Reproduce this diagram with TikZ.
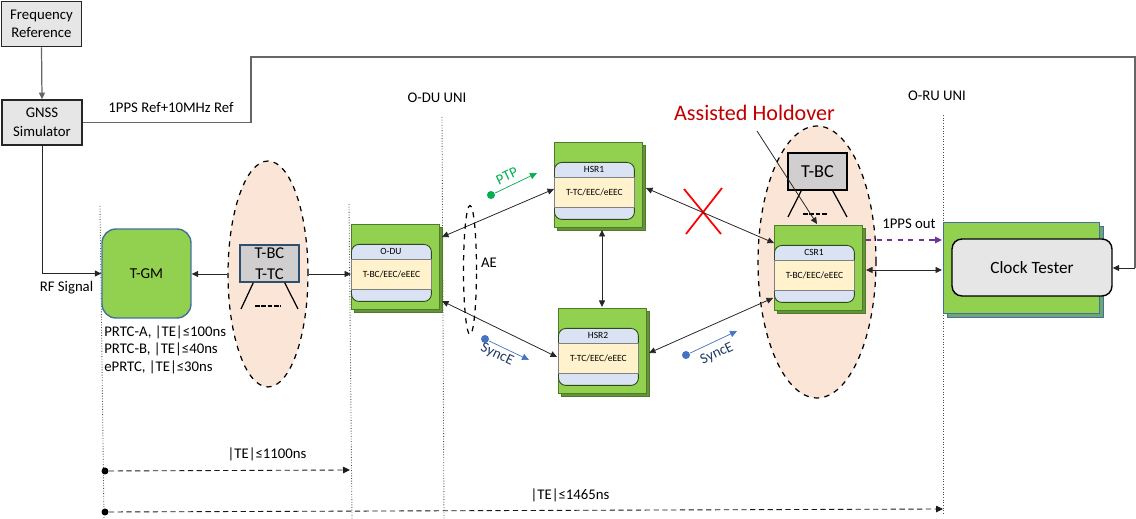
\documentclass[tikz,border=0pt]{standalone}
\usepackage{fontspec}
\setmainfont{Carlito}
\usetikzlibrary{positioning,arrows.meta,shapes.geometric}
\definecolor{devgreen}{HTML}{92D050}
\definecolor{devedge}{HTML}{4E7A2B}
\definecolor{panelblue}{HTML}{DAE3F3}
\definecolor{panelyellow}{HTML}{FFF2CC}
\definecolor{peach}{HTML}{FBE5D6}
\definecolor{boxgrey}{HTML}{D0CECE}
\definecolor{refgrey}{HTML}{E7E6E6}
\definecolor{edgeblue}{HTML}{41719C}
\definecolor{holdred}{HTML}{C00000}
\definecolor{ptpgreen}{HTML}{00B050}
\definecolor{syncblue}{HTML}{4472C4}
\definecolor{syncnavy}{HTML}{203864}
\definecolor{ppspurple}{HTML}{7030A0}
\tikzset{
  lbl/.style={inner sep=0pt,font=\fontsize{8.4}{10}\selectfont,align=center},
  refbox/.style={draw=black!85,line width=0.9pt,fill=refgrey,inner sep=0pt,align=center,font=\fontsize{8.4}{10.6}\selectfont,minimum width=1.6cm,minimum height=0.9cm},
  link/.style={{Triangle[length=1.3mm,width=1.2mm]}-{Triangle[length=1.3mm,width=1.2mm]},line width=0.45pt,draw=black!85},
  linkto/.style={-{Triangle[length=1.3mm,width=1.2mm]},line width=0.45pt,draw=black!85},
  feed/.style={-{Triangle[length=1.3mm,width=1.2mm]},line width=0.7pt,draw=black!60},
  zone/.style={ellipse,draw=black,dashed,line width=0.7pt,fill=peach,inner sep=0pt},
  boundary/.style={draw=black!70,line width=0.5pt,densely dotted},
  span/.style={-{Triangle[length=1.4mm,width=1.3mm]},draw=black!90,line width=0.5pt,densely dashed},
  clockbox/.style={draw,inner sep=0pt,align=center,fill=boxgrey},
  devfront/.style={draw=devedge,line width=0.5pt,fill=devgreen,minimum width=1.76cm,minimum height=1.7cm,anchor=north west,inner sep=0pt},
  legline/.style={draw=black,line width=0.7pt},
  dashrow/.style={line width=0.9pt,dash pattern=on 2.6pt off 1pt},
  dot/.style={circle,fill=#1,inner sep=0pt,minimum size=1.6mm},
}
% device: name, left, top, title, text
\newcommand{\devbox}[5]{
  \node[devfront,fill=devgreen!70!black] (#1back) at (#2+3,#3+3) {};
  \node[devfront] (#1) at (#2,#3) {};
  \node[draw=devedge!60!black,line width=0.5pt,fill=panelblue,rounded corners=1.5mm,minimum width=1.6cm,minimum height=1.14cm,anchor=north west,inner sep=0pt] (#1panel) at (#2,#3+20) {};
  \node[draw=black!50,line width=0.5pt,fill=panelyellow,minimum width=1.6cm,minimum height=0.6cm,anchor=north west,inner sep=0pt,font=\fontsize{5.4}{6}\selectfont] (#1text) at (#2,#3+35) {#5};
  \node[inner sep=0pt,font=\fontsize{5.4}{6}\selectfont] (#1title) at (#2+40,#3+27.5) {#4};
}
\begin{document}
\begin{tikzpicture}[x=0.02cm,y=-0.02cm]
    \useasboundingbox (0,0) rectangle (1136,519);
    % dotted boundaries
    \coordinate (b1top) at (100,206);
    \coordinate (b1bot) at (104,519);
    \coordinate (b2top) at (349,204);
    \coordinate (b2bot) at (352,519);
    \coordinate (b3top) at (442,117);
    \coordinate (b3bot) at (444,519);
    \coordinate (b4top) at (943,115);
    \coordinate (b4bot) at (943,515);
    \draw[boundary] (b1top) -- (b1bot);
    \draw[boundary] (b2top) -- (b2bot);
    \draw[boundary] (b3top) -- (b3bot);
    \draw[boundary] (b4top) -- (b4bot);

    % reference and simulator
    \node[refbox] (freq) at (41.5,24) {Frequency\\Reference};
    \node[refbox] (gnss) at (42,122.5) {GNSS\\Simulator};
    \node[lbl] (pps) at (171,107) {1PPS Ref+10MHz Ref};
    \node[lbl] (rf) at (66.5,288) {RF Signal};

    % grand master
    \node[draw=edgeblue,line width=0.8pt,fill=devgreen,rounded corners=2.8mm,minimum width=1.78cm,minimum height=1.78cm,inner sep=0pt,font=\fontsize{8.6}{10}\selectfont] (tgm) at (146.5,273.5) {T-GM};
    \node[lbl,align=left,anchor=north west,font=\fontsize{8.4}{10.2}\selectfont] (prtc) at (104,325) {PRTC-A, |TE|≤100ns\\PRTC-B, |TE|≤40ns\\ePRTC, |TE|≤30ns};

    % chain of clocks
    \node[zone,minimum width=1.6cm,minimum height=4.52cm] (chain) at (268,274) {};
    \node[clockbox,draw=edgeblue!70!black,line width=0.8pt,minimum width=1.18cm,minimum height=0.74cm,font=\fontsize{9.4}{12}\selectfont] (chainbox) at (269.5,263.5) {T-BC\\T-TC};
    \coordinate (cl1) at (241,309);
    \coordinate (cl2) at (298,309);
    \coordinate (cd1) at (255,306);
    \coordinate (cd2) at (281,306);
    \draw[legline] (chainbox.south west) ++(14,0) -- (cl1);
    \draw[legline] (chainbox.south east) ++(-15,0) -- (cl2);
    \draw[dashrow] (cd1) -- (cd2);

    % devices
    \devbox{odu}{351}{224}{O-DU}{T-BC/EEC/eEEC}
    \devbox{hsr1}{554}{142}{HSR1}{T-TC/EEC/eEEC}
    \devbox{hsr2}{558}{308}{HSR2}{T-TC/EEC/eEEC}

    \node[zone,minimum width=2.36cm,minimum height=5.44cm] (csrzone) at (817,262) {};
    \node[clockbox,draw=black,line width=0.8pt,minimum width=1.18cm,minimum height=0.74cm,font=\fontsize{10.4}{12}\selectfont] (tbc) at (817.5,171.5) {T-BC};
    \coordinate (tl1) at (788,217);
    \coordinate (tl2) at (847,217);
    \coordinate (td1) at (803,214);
    \coordinate (td2) at (828,214);
    \draw[legline] (tbc.south west) ++(14,0) -- (tl1);
    \draw[legline] (tbc.south east) ++(-15,0) -- (tl2);
    \draw[dashrow] (td1) -- (td2);
    \devbox{csr1}{774}{225}{CSR1}{T-BC/EEC/eEEC}

    % clock tester
    \node[devfront,draw=edgeblue,fill=devgreen!55!edgeblue,minimum width=3.12cm,minimum height=1.82cm] (testerback) at (947,226) {};
    \node[devfront,draw=edgeblue,minimum width=3.12cm,minimum height=1.82cm] (testerfront) at (943,222) {};
    \node[draw=black,line width=0.8pt,fill=refgrey,rounded corners=2mm,minimum width=3.2cm,minimum height=1.14cm,inner sep=0pt,font=\fontsize{9.8}{11}\selectfont] (tester) at (1032,267.5) {Clock Tester};

    % feeds from the simulator
    \coordinate (over) at (251,57);
    \coordinate (far) at (1135,57);
    \coordinate (farin) at (1135,268);
    \draw[feed] (freq.south) -- (gnss.north);
    \draw[feed,-] (gnss.east) -| (over) -- (far) -- (farin);
    \draw[linkto] (farin) -- (farin -| tester.east);
    \draw[feed,draw=black!85,line width=0.5pt] (gnss.south) |- (tgm.west);
    \draw[linkto] (chain.west) -- (chain.west -| tgm.east);
    \draw[linkto] (chain.east) -- (chain.east -| odu.west);

    % red cross
    \coordinate (xa) at (684,189);
    \coordinate (xb) at (721,234);
    \coordinate (xc) at (722,188);
    \coordinate (xd) at (686,234);
    \draw[red,line width=1pt] (xa) -- (xb);
    \draw[red,line width=1pt] (xc) -- (xd);

    % ports
    \coordinate (odua) at (442,237);
    \coordinate (odub) at (442,301);
    \coordinate (hsr1a) at (554,189);
    \coordinate (hsr1b) at (646,188);
    \coordinate (hsr1c) at (602,230);
    \coordinate (hsr2a) at (557,357);
    \coordinate (hsr2b) at (649,353);
    \coordinate (hsr2c) at (602,307);
    \coordinate (csra) at (774,243);
    \coordinate (csrb) at (773,298);
    \coordinate (csrc) at (866,270);
    \coordinate (testa) at (942,270);
    \coordinate (csrd) at (866,240);
    \coordinate (testb) at (942,240);
    \draw[link] (odua) -- (hsr1a);
    \draw[link] (odub) -- (hsr2a);
    \draw[link] (hsr1c) -- (hsr2c);
    \draw[link] (hsr1b) -- (csra);
    \draw[link] (hsr2b) -- (csrb);
    \draw[link] (csrc) -- (testa);
    \draw[-{Triangle[length=1.4mm,width=1.3mm]},draw=ppspurple,line width=0.6pt,dashed] (csrd) -- (testb);
    \node[lbl] (ppsout) at (909,224) {1PPS out};

    % aggregated links
    \node[ellipse,draw=black,dashed,line width=0.7pt,inner sep=0pt,minimum width=0.26cm,minimum height=2.58cm] (ae) at (470,270) {};
    \node[lbl] (aelbl) at (489,263) {AE};

    % holdover
    \node[inner sep=0pt,text=holdred,font=\fontsize{12.6}{14}\selectfont] (hold) at (754.5,113) {Assisted Holdover};
    \coordinate (holdtail) at (757,131);
    \coordinate (holdtip) at (817,224);
    \draw[linkto] (holdtail) -- (holdtip);

    % PTP and SyncE marks
    \node[dot=ptpgreen] (ptpdot) at (491,195) {};
    \coordinate (ptpend) at (537,173);
    \draw[-{Triangle[length=1.4mm,width=1.3mm]},ptpgreen,line width=0.4pt] (ptpdot) -- (ptpend);
    \node[lbl,text=ptpgreen,rotate=25] (ptp) at (507,176) {PTP};
    \node[dot=syncblue] (syncdot) at (485,339) {};
    \coordinate (syncend) at (529,360);
    \draw[-{Triangle[length=1.4mm,width=1.3mm]},syncblue,line width=0.4pt] (syncdot) -- (syncend);
    \node[lbl,text=syncnavy,rotate=-25] (sync) at (497,355) {SyncE};
    \node[dot=syncblue] (syncdottwo) at (686,355) {};
    \coordinate (syncendtwo) at (737,331);
    \draw[-{Triangle[length=1.4mm,width=1.3mm]},syncblue,line width=0.4pt] (syncdottwo) -- (syncendtwo);
    \node[lbl,text=syncnavy,rotate=25] (synctwo) at (717,354) {SyncE};

    % budgets
    \node[lbl] (oduuni) at (437,98) {O-DU UNI};
    \node[lbl] (oruuni) at (937,96) {O-RU UNI};
    \node[lbl] (budgetdu) at (267,454) {|TE|≤1100ns};
    \node[lbl] (budgetru) at (570,495) {|TE|≤1465ns};
    \node[circle,fill=black,inner sep=0pt,minimum size=1.4mm] (dotdu) at (105,471) {};
    \node[circle,fill=black,inner sep=0pt,minimum size=1.4mm] (dotru) at (105,512) {};
    \coordinate (enddu) at (350,470);
    \coordinate (endru) at (943,509);
    \draw[span] (dotdu) -- (enddu);
    \draw[span] (dotru) -- (endru);
\end{tikzpicture}
\end{document}
